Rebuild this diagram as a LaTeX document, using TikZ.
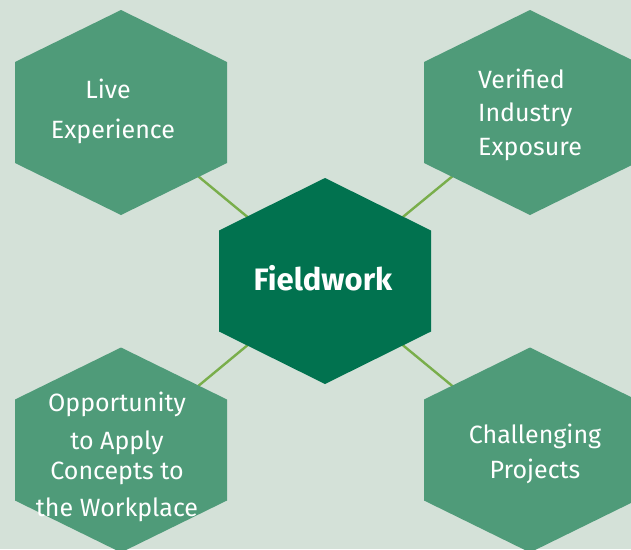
\documentclass[tikz,border=0pt]{standalone}
\usepackage{fontspec}
\setmainfont{Fira Sans}
\definecolor{bgc}{HTML}{D4E1D8}
\definecolor{hexout}{HTML}{4F9B79}
\definecolor{hexmid}{HTML}{01724F}
\definecolor{linkc}{HTML}{79AE4B}
\tikzset{
  link/.style={draw=linkc, line width=2.4pt},
  outerhex/.style={fill=hexout},
  centerhex/.style={fill=hexmid},
  lbl/.style={text=white, inner sep=0pt, font=\fontsize{25}{40}\selectfont},
}
\newcommand{\hexpath}[1]{(0,-#1) -- (106,-50.5) -- (106,50.5) -- (0,#1) -- (-106,50.5) -- (-106,-50.5) -- cycle}
\begin{document}
\begin{tikzpicture}[x=1pt,y=-1pt]
\useasboundingbox (0,0) rectangle (631,549);
\fill[bgc] (0,0) rectangle (631,549);
\coordinate (c) at (325,281);
\coordinate (tl) at (121,112.5);
\coordinate (tr) at (530,112.5);
\coordinate (bl) at (121,450);
\coordinate (br) at (530,450);
\draw[link] (c) -- (tl);
\draw[link] (c) -- (tr);
\draw[link] (c) -- (bl);
\draw[link] (c) -- (br);
\fill[outerhex, shift={(tl)}] \hexpath{102.5};
\fill[outerhex, shift={(tr)}] \hexpath{102.5};
\fill[outerhex, shift={(bl)}] \hexpath{102.5};
\fill[outerhex, shift={(br)}] \hexpath{102.5};
\fill[centerhex, shift={(c)}] \hexpath{103};
\node[text=white, inner sep=0pt, anchor=base, font=\fontsize{31}{36}\selectfont\bfseries] (fw) at (323,290) {Fieldwork};
\node[lbl, align=center] (tlt) at (113,111) {Live\hspace*{10pt}\\Experience};
\node[lbl, align=left, anchor=west, font=\fontsize{25}{33.5}\selectfont] (trt) at (478,114.5) {Verified\\Industry\\Exposure};
\node[lbl, align=center, font=\fontsize{25}{35}\selectfont] (brt) at (535,453.5) {Challenging\\Projects};
\node[lbl, align=center, font=\fontsize{25}{35}\selectfont] (blt) at (117,456.5) {Opportunity\\[3pt]to Apply\hspace*{19pt}\\[-5pt]Concepts to\hspace*{9pt}\\[2pt]the Workplace};
\end{tikzpicture}
\end{document}
